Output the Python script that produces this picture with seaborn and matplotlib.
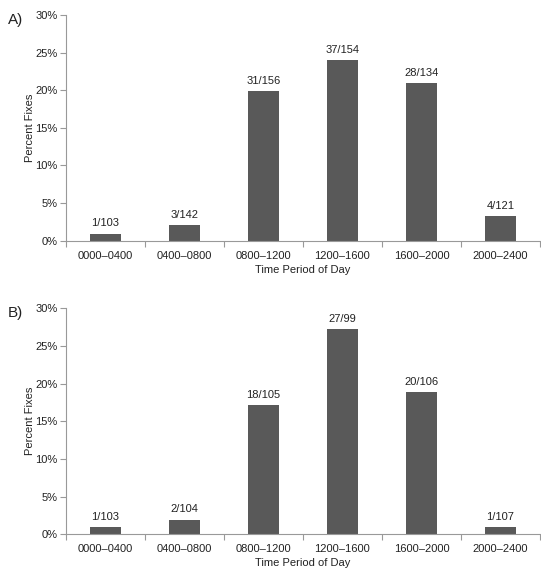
import pandas as pd
import seaborn as sns
import matplotlib.pyplot as plt
from matplotlib.ticker import PercentFormatter

periods = ["0000\u20130400", "0400\u20130800", "0800\u20131200", "1200\u20131600", "1600\u20132000", "2000\u20132400"]

fixes_a = [1, 3, 31, 37, 28, 4]
attempts_a = [103, 142, 156, 154, 134, 121]
fixes_b = [1, 2, 18, 27, 20, 1]
attempts_b = [103, 104, 105, 99, 106, 107]

sns.set_style("white")
plt.rcParams["font.family"] = ["Liberation Sans", "DejaVu Sans"]

fig = plt.figure(figsize=(5.41, 5.72), dpi=100)
ax_a = fig.add_axes([0.122, 0.579, 0.876, 0.395])
ax_b = fig.add_axes([0.122, 0.066, 0.876, 0.395])

for ax, fixes, attempts, tag in [(ax_a, fixes_a, attempts_a, "A)"), (ax_b, fixes_b, attempts_b, "B)")]:
    df = pd.DataFrame({"period": periods,
                       "pct": [100 * f / n for f, n in zip(fixes, attempts)],
                       "lab": [f"{f}/{n}" for f, n in zip(fixes, attempts)]})
    sns.barplot(data=df, x="period", y="pct", color="#595959", width=0.4,
                saturation=1, ax=ax, edgecolor="none")
    # count labels above bars
    for i, row in df.iterrows():
        ax.text(i, row["pct"] + 0.7, row["lab"], ha="center", va="bottom",
                fontsize=8, color="#222222")
    ax.set_ylim(0, 30)
    ax.set_xlim(-0.5, 5.5)
    ax.set_yticks([0, 5, 10, 15, 20, 25, 30])
    ax.yaxis.set_major_formatter(PercentFormatter(decimals=0))
    ax.set_xticks(range(6))
    ax.set_xticks([i - 0.5 for i in range(7)], minor=True)
    ax.tick_params(axis="x", which="major", length=0, pad=7, labelsize=8, labelcolor="#222222")
    ax.tick_params(axis="x", which="minor", length=4, width=0.8, color="#999999", direction="out", bottom=True)
    ax.tick_params(axis="y", length=4, width=0.8, color="#999999", direction="out", left=True,
                   labelsize=8, labelcolor="#222222", pad=2)
    for s in ["top", "right"]:
        ax.spines[s].set_visible(False)
    for s in ["left", "bottom"]:
        ax.spines[s].set_color("#999999")
        ax.spines[s].set_linewidth(0.8)
    ax.set_xlabel("Time Period of Day", fontsize=8, color="#222222", labelpad=3)
    ax.set_ylabel("Percent Fixes", fontsize=8, color="#222222", labelpad=0)
    ax.text(-0.122, 0.978, tag, transform=ax.transAxes, fontsize=11, ha="left", va="center", color="#222222")

fig.savefig("out.png", dpi=100)
